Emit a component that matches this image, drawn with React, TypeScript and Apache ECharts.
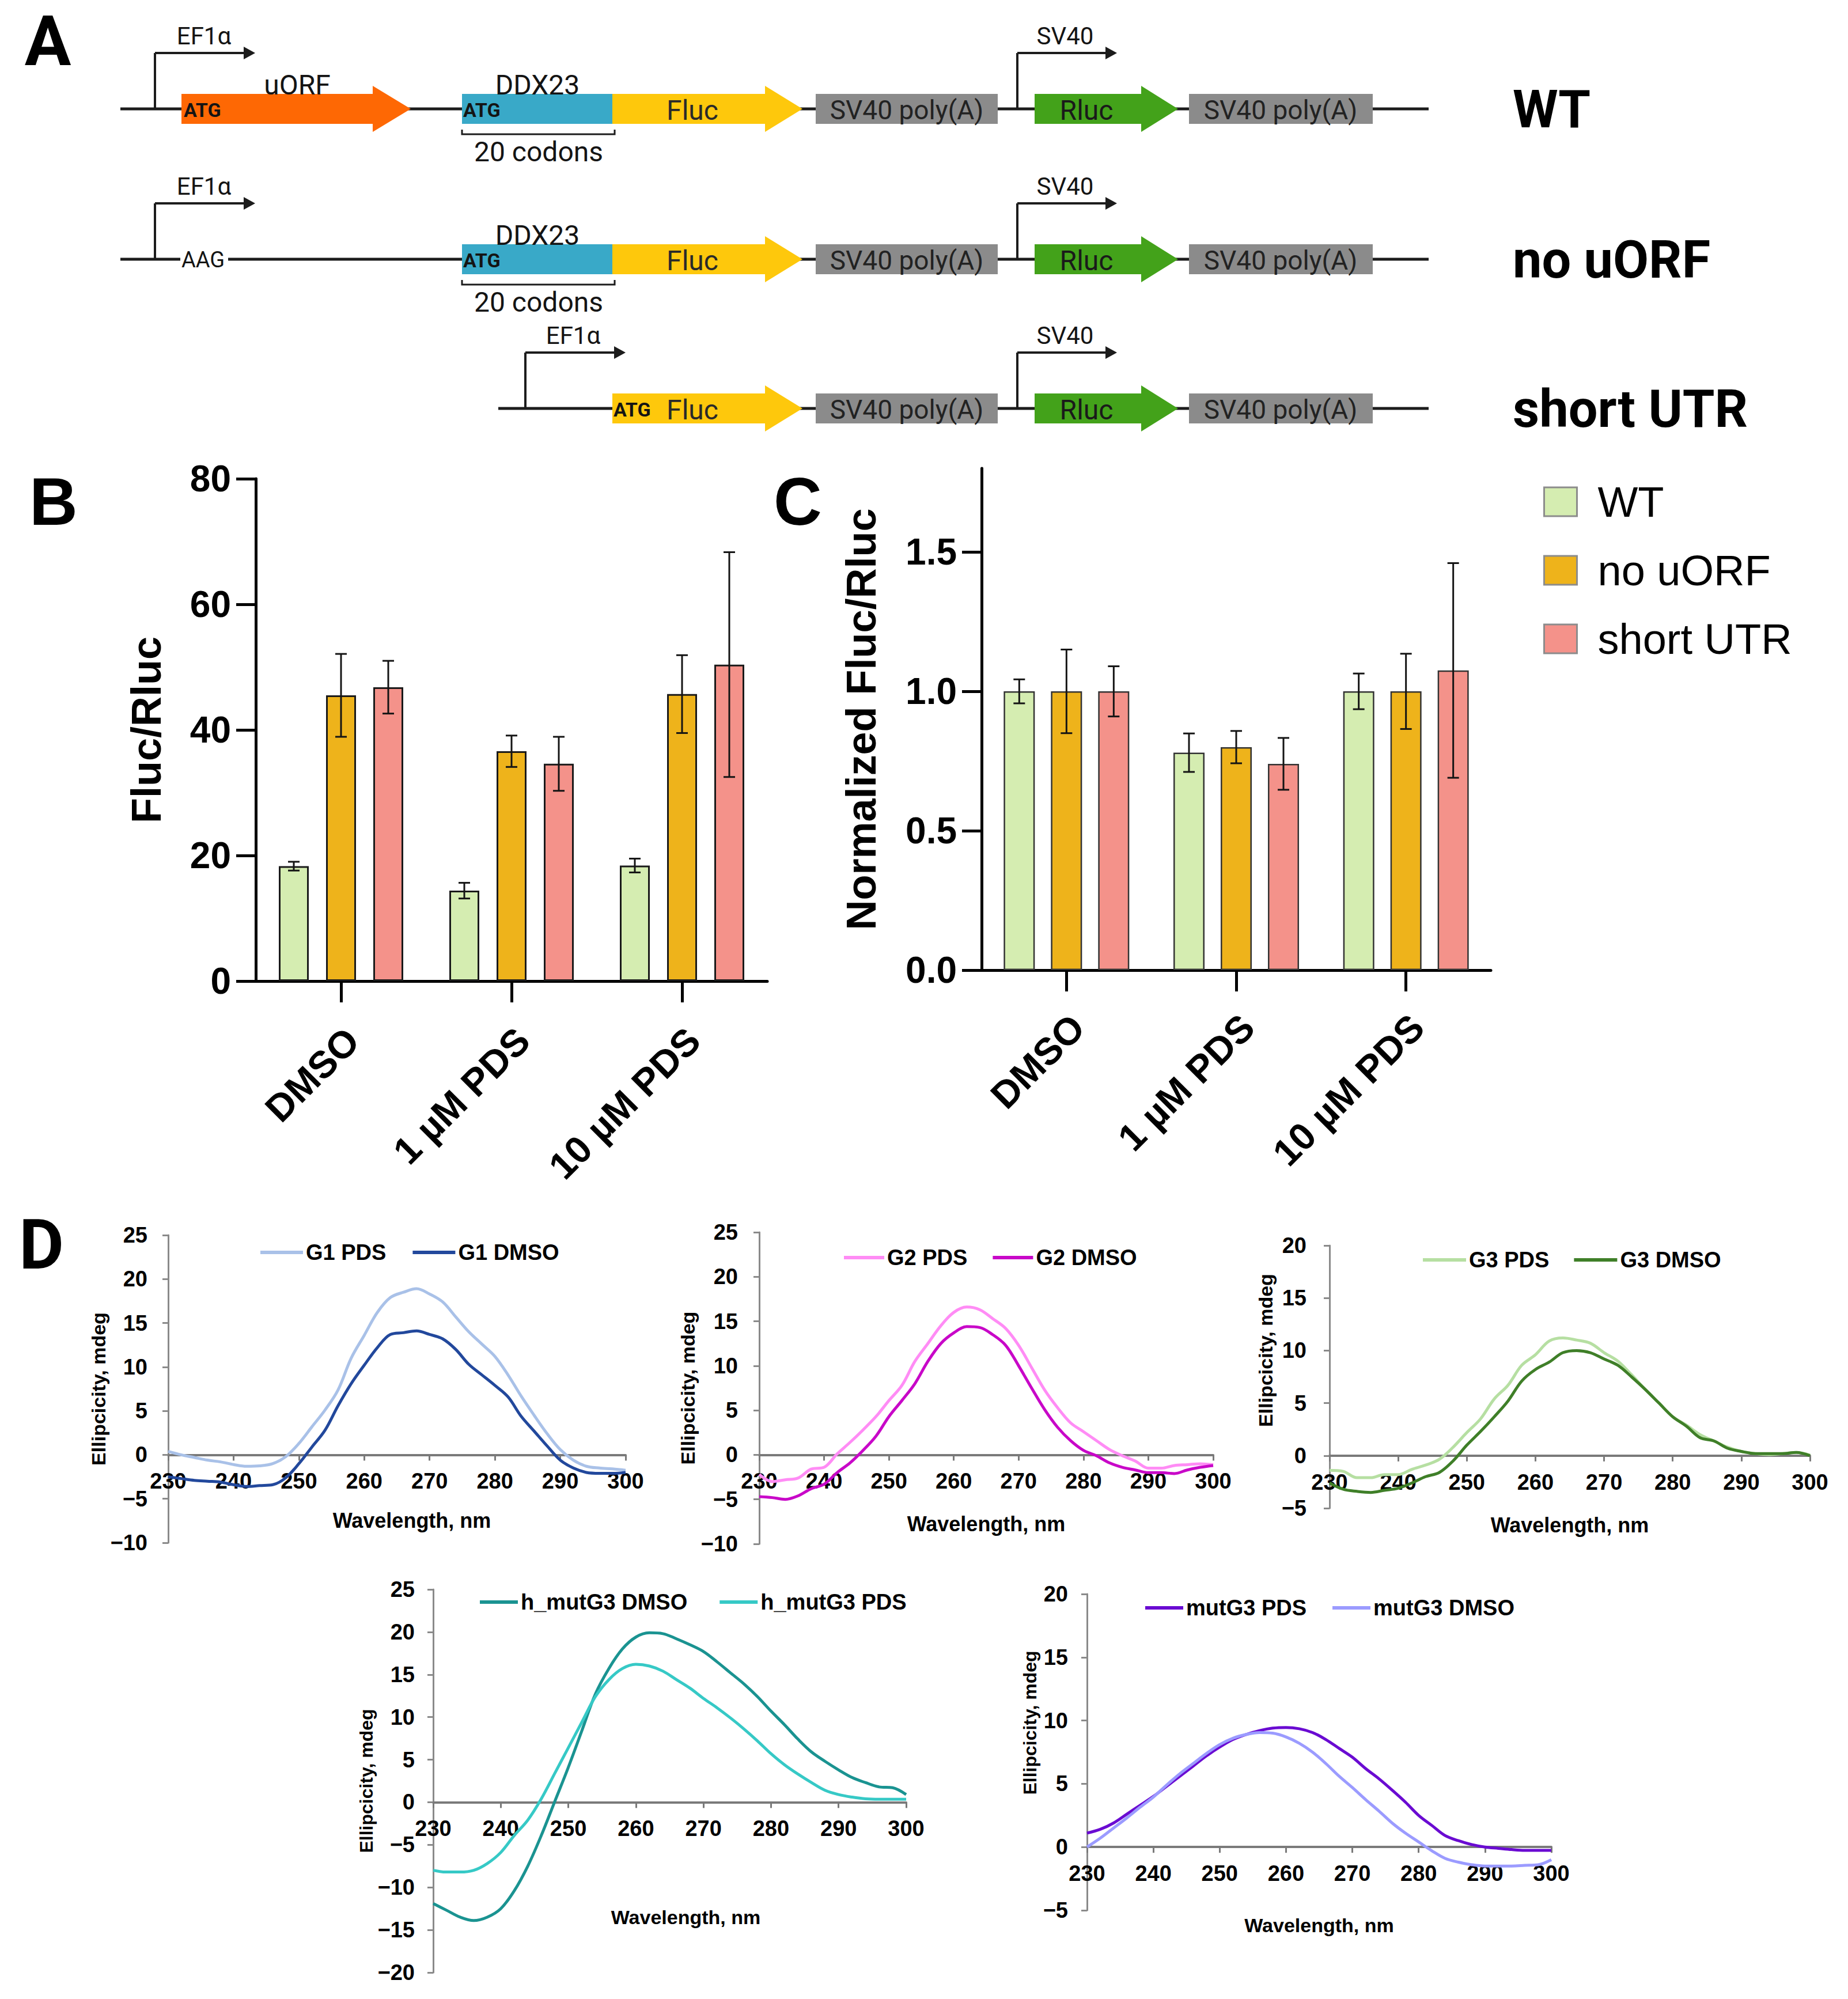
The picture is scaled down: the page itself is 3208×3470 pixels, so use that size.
import React, { useEffect, useRef } from 'react';
import * as echarts from 'echarts';

// ---------------- data ----------------
const CATEGORIES = ['DMSO', '1 µM PDS', '10 µM PDS'];
const GROUPS = ['WT', 'no uORF', 'short UTR'];

const B_WT_MEAN = [18.3, 14.4, 18.4];
const B_WT_SD = [0.7, 1.25, 1.1];
const B_NOUORF_MEAN = [45.5, 36.6, 45.7];
const B_NOUORF_SD = [6.6, 2.5, 6.2];
const B_SHORT_MEAN = [46.8, 34.6, 50.4];
const B_SHORT_SD = [4.2, 4.3, 17.9];

const C_WT_MEAN = [1.0, 0.78, 1.0];
const C_WT_SD = [0.043, 0.069, 0.064];
const C_NOUORF_MEAN = [1.0, 0.8, 1.0];
const C_NOUORF_SD = [0.15, 0.058, 0.135];
const C_SHORT_MEAN = [1.0, 0.74, 1.075];
const C_SHORT_SD = [0.09, 0.093, 0.385];

const C_TICKS = [0, 0.5, 1.0, 1.5];

const WAVELENGTH = [230, 232, 234, 236, 238, 240, 242, 244, 246, 248, 250, 252, 254, 256, 258, 260, 262, 264,
  266, 268, 270, 272, 274, 276, 278, 280, 282, 284, 286, 288, 290, 292, 294, 296, 298, 300];

const G1_PDS = [0.4, 0.0, -0.3, -0.6, -0.8, -1.1, -1.3, -1.25, -1.0, -0.2, 1.3, 3.2, 5.1, 7.4, 11.0, 13.6, 16.2, 17.9,
  18.5, 18.9, 18.3, 17.4, 15.7, 14.0, 12.6, 11.2, 9.1, 6.7, 4.5, 2.4, 0.6, -0.6, -1.3, -1.5, -1.6, -1.75];
const G1_DMSO = [-2.5, -2.7, -2.9, -3.0, -3.1, -3.4, -3.6, -3.5, -3.4, -2.6, -1.0, 0.9, 2.8, 5.6, 8.1, 10.2, 12.2, 13.7,
  13.9, 14.1, 13.7, 13.2, 12.0, 10.3, 9.1, 7.9, 6.6, 4.4, 2.7, 1.0, -0.6, -1.5, -2.0, -2.1, -2.1, -2.0];
const G2_PDS = [-2.2, -3.0, -2.8, -2.6, -1.6, -1.4, 0.1, 1.4, 2.8, 4.3, 6.1, 7.8, 10.5, 12.5, 14.5, 16.0, 16.6, 16.3,
  15.3, 14.2, 12.3, 9.8, 7.3, 5.3, 3.6, 2.6, 1.6, 0.6, -0.1, -0.7, -1.5, -1.5, -1.2, -1.1, -1.0, -1.1];
const G2_DMSO = [-4.7, -4.8, -5.0, -4.6, -3.8, -3.3, -2.0, -0.9, 0.5, 2.1, 4.3, 6.1, 8.0, 10.5, 12.5, 13.7, 14.4, 14.3,
  13.5, 12.3, 10.0, 7.5, 5.1, 3.1, 1.6, 0.5, -0.1, -0.9, -1.4, -1.7, -2.0, -2.0, -2.1, -1.7, -1.4, -1.2];
const G3_PDS = [-1.4, -1.5, -2.1, -2.1, -1.8, -1.8, -1.3, -0.9, -0.35, 0.8, 2.2, 3.5, 5.4, 6.7, 8.6, 9.6, 10.9, 11.2,
  11.0, 10.7, 9.8, 9.0, 7.7, 6.3, 5.0, 3.7, 2.9, 2.0, 1.4, 0.8, 0.4, 0.2, 0.1, 0.2, 0.3, 0.05];
const G3_DMSO = [-2.6, -3.2, -3.4, -3.5, -3.3, -3.1, -2.6, -2.0, -1.6, -0.5, 1.0, 2.3, 3.7, 5.2, 7.1, 8.2, 8.9, 9.8,
  10.0, 9.8, 9.2, 8.6, 7.5, 6.3, 5.0, 3.7, 2.8, 1.7, 1.4, 0.7, 0.4, 0.2, 0.2, 0.2, 0.3, 0.0];
const HMUT_DMSO = [-11.9, -12.7, -13.5, -13.9, -13.5, -12.5, -10.4, -7.5, -3.9, 0.1, 4.1, 8.4, 12.7, 15.7, 18.0, 19.4,
  19.9, 19.8, 19.2, 18.5, 17.7, 16.5, 15.2, 13.9, 12.4, 10.7, 9.1, 7.4, 5.9, 4.8, 3.8, 2.9, 2.3, 1.8, 1.7, 0.9];
const HMUT_PDS = [-8.0, -8.2, -8.2, -8.0, -7.2, -5.9, -3.9, -2.1, 0.4, 3.4, 6.4, 9.4, 12.4, 14.4, 15.7, 16.2, 16.0, 15.4,
  14.4, 13.4, 12.2, 11.1, 9.9, 8.6, 7.2, 5.7, 4.4, 3.3, 2.3, 1.4, 0.9, 0.6, 0.4, 0.35, 0.35, 0.35];
const MUT_PDS = [1.1, 1.4, 1.9, 2.6, 3.3, 4.0, 4.8, 5.6, 6.4, 7.2, 7.9, 8.5, 8.9, 9.2, 9.4, 9.45, 9.35, 9.05, 8.5, 7.8,
  7.1, 6.2, 5.4, 4.5, 3.55, 2.5, 1.7, 0.9, 0.5, 0.2, 0.0, -0.1, -0.2, -0.26, -0.26, -0.26];
const MUT_DMSO = [0.0, 0.7, 1.5, 2.3, 3.15, 3.95, 4.9, 5.8, 6.6, 7.4, 8.1, 8.6, 8.9, 9.05, 9.0, 8.7, 8.2, 7.5, 6.6, 5.6,
  4.7, 3.75, 2.85, 1.9, 1.1, 0.4, -0.3, -0.9, -1.2, -1.4, -1.5, -1.5, -1.5, -1.45, -1.4, -1.0];

// ---------------- styles ----------------
const FONT = '"Liberation Sans", Arial, Helvetica, sans-serif';
const A_FONT = 'Roboto, "Liberation Sans", sans-serif';
const GROUP_COLORS = ['#d5edb1', '#eeb31b', '#f4928a'];

const D_PANELS = [
  {
    grid: { left: 292, top: 2144, width: 794, height: 534 }, yMin: -10, yMax: 25,
    lines: [{ name: 'G1 PDS', data: G1_PDS, color: '#a9c1e8' }, { name: 'G1 DMSO', data: G1_DMSO, color: '#22489c' }],
    legend: { left: 452, top: 2155, itemWidth: 74, itemGap: 46 },
    yLabelMargin: 36, yNameGap: 103, yNamePad: 0, xNameGap: 96, xNamePad: 52, yNameSize: 34, xNameSize: 36,
  },
  {
    grid: { left: 1318, top: 2139, width: 788, height: 541 }, yMin: -10, yMax: 25,
    lines: [{ name: 'G2 PDS', data: G2_PDS, color: '#ff8cf5' }, { name: 'G2 DMSO', data: G2_DMSO, color: '#c808c8' }],
    legend: { left: 1465, top: 2164, itemWidth: 70, itemGap: 44 },
    yLabelMargin: 37, yNameGap: 107, yNamePad: 0, xNameGap: 102, xNamePad: 0, yNameSize: 34, xNameSize: 36,
  },
  {
    grid: { left: 2308, top: 2162, width: 834, height: 456 }, yMin: -5, yMax: 20,
    lines: [{ name: 'G3 PDS', data: G3_PDS, color: '#b6dfa2' }, { name: 'G3 DMSO', data: G3_DMSO, color: '#3f7f28' }],
    legend: { left: 2470, top: 2168, itemWidth: 75, itemGap: 43 },
    yLabelMargin: 40, yNameGap: 94, yNamePad: 92, xNameGap: 103, xNamePad: 0, yNameSize: 34, xNameSize: 36,
  },
  {
    grid: { left: 752, top: 2759, width: 821, height: 665 }, yMin: -20, yMax: 25,
    lines: [{ name: 'h_mutG3 DMSO', data: HMUT_DMSO, color: '#1a9391' }, { name: 'h_mutG3 PDS', data: HMUT_PDS, color: '#36c9c6' }],
    legend: { left: 833, top: 2762, itemWidth: 66, itemGap: 56 },
    yLabelMargin: 32, yNameGap: 100, yNamePad: 0, xNameGap: 183, xNamePad: 56, yNameSize: 32, xNameSize: 34,
  },
  {
    grid: { left: 1887, top: 2767, width: 806, height: 549 }, yMin: -5, yMax: 20,
    lines: [{ name: 'mutG3 PDS', data: MUT_PDS, color: '#6a0bd2' }, { name: 'mutG3 DMSO', data: MUT_DMSO, color: '#9b9bff' }],
    legend: { left: 1988, top: 2772, itemWidth: 66, itemGap: 45 },
    yLabelMargin: 33, yNameGap: 83, yNamePad: 102, xNameGap: 119, xNamePad: 0, yNameSize: 32, xNameSize: 34,
  },
];

const minus = (v: number) => String(v).replace('-', '\u2212');

// ---------------- panel A (schematic) ----------------
function buildPanelA(): any[] {
  const K = '#1c1c1c';
  const els: any[] = [];
  const ln = (x1: number, y1: number, x2: number, y2: number, w = 5) =>
    ({ type: 'line', silent: true, shape: { x1, y1, x2, y2 }, style: { stroke: K, lineWidth: w } });
  const tx = (x: number, y: number, text: string, size: number, extra: any = {}) =>
    ({ type: 'text', silent: true, x, y, style: { text, fontSize: size, fontFamily: A_FONT, fill: '#141414', align: 'center', verticalAlign: 'middle', ...extra } });
  const arrow = (x0: number, xh: number, xt: number, yc: number, fill: string) => ({
    type: 'polygon', silent: true,
    shape: { points: [[x0, yc - 26], [xh, yc - 26], [xh, yc - 40], [xt, yc], [xh, yc + 40], [xh, yc + 26], [x0, yc + 26]] },
    style: { fill },
  });
  const box = (x0: number, x1: number, yc: number, fill: string) =>
    ({ type: 'rect', silent: true, shape: { x: x0, y: yc - 26, width: x1 - x0, height: 52 }, style: { fill } });
  const promoter = (x: number, yc: number, len: number, label: string, lx: number) => [
    ln(x, yc, x, yc - 97, 4),
    ln(x, yc - 97, x + len - 16, yc - 97, 4),
    { type: 'polygon', silent: true, shape: { points: [[x + len - 20, yc - 108], [x + len, yc - 97], [x + len - 20, yc - 86]] }, style: { fill: K } },
    tx(lx, yc - 127, label, 42),
  ];

  const rows = [
    { yc: 189, name: 'WT', kind: 'wt' },
    { yc: 450, name: 'no uORF', kind: 'nouorf' },
    { yc: 709, name: 'short UTR', kind: 'short' },
  ];
  rows.forEach(({ yc, name, kind }) => {
    if (kind === 'short') els.push(ln(865, yc, 2480, yc));
    else if (kind === 'nouorf') { els.push(ln(209, yc, 313, yc)); els.push(ln(396, yc, 2480, yc)); }
    else els.push(ln(209, yc, 2480, yc));

    if (kind === 'short') els.push(...promoter(912, yc, 174, 'EF1\u03b1', 995));
    else els.push(...promoter(269, yc, 174, 'EF1\u03b1', 354));

    if (kind === 'wt') {
      els.push(arrow(315, 647, 713, yc, '#fe6804'));
      els.push(tx(319, yc + 2, 'ATG', 34, { align: 'left', fontWeight: 'bold' }));
      els.push(tx(516, yc - 42, 'uORF', 48));
    }
    if (kind === 'nouorf') els.push(tx(315, yc + 1, 'AAG', 38, { align: 'left' }));
    if (kind !== 'short') {
      els.push(box(802, 1063, yc, '#39a9c8'));
      els.push(tx(804, yc + 2, 'ATG', 34, { align: 'left', fontWeight: 'bold' }));
      els.push(tx(933, yc - 42, 'DDX23', 48));
      els.push({
        type: 'polyline', silent: true,
        shape: { points: [[802, yc + 36], [802, yc + 44], [1067, yc + 44], [1067, yc + 36]] },
        style: { stroke: K, lineWidth: 3, fill: null },
      });
      els.push(tx(935, yc + 74, '20 codons', 48));
    }
    els.push(arrow(1063, 1328, 1393, yc, '#fec80c'));
    if (kind === 'short') els.push(tx(1065, yc + 2, 'ATG', 34, { align: 'left', fontWeight: 'bold' }));
    els.push(tx(1202, yc + 2, 'Fluc', 48, { fill: '#2a2a2a' }));
    els.push(box(1416, 1732, yc, '#8b8b8b'));
    els.push(tx(1574, yc + 2, 'SV40 poly(A)', 46, { fill: '#222' }));
    els.push(...promoter(1766, yc, 173, 'SV40', 1849));
    els.push(arrow(1796, 1981, 2045, yc, '#43a21a'));
    els.push(tx(1886, yc + 2, 'Rluc', 48, { fill: '#1a1a1a' }));
    els.push(box(2064, 2383, yc, '#8b8b8b'));
    els.push(tx(2223, yc + 2, 'SV40 poly(A)', 46, { fill: '#222' }));
    els.push(tx(2626, yc + 1, name, 90, { align: 'left', fontWeight: 'bold', fill: '#000' }));
  });

  // panel letters
  els.push(tx(83, 72, 'A', 120, { fontWeight: 'bold', fill: '#000' }));
  els.push(tx(93, 871, 'B', 116, { fontWeight: 'bold', fill: '#000', fontFamily: FONT }));
  els.push(tx(1385, 871, 'C', 116, { fontWeight: 'bold', fill: '#000', fontFamily: FONT }));
  els.push(tx(72, 2161, 'D', 120, { fontWeight: 'bold', fill: '#000' }));
  return els;
}

// ---------------- option ----------------
function buildOption(): any {
  const grids: any[] = [
    { left: 444, top: 831, width: 888, height: 872, outerBoundsMode: 'none', containLabel: false },
    { left: 1704, top: 813, width: 884, height: 871, outerBoundsMode: 'none', containLabel: false },
  ];
  const xAxes: any[] = [];
  const yAxes: any[] = [];
  const series: any[] = [];
  const legends: any[] = [];

  const catX = (gi: number, margin: number) => ({
    type: 'category', gridIndex: gi, data: CATEGORIES,
    axisLine: { show: true, lineStyle: { color: '#000', width: 5 } },
    axisTick: { show: true, alignWithLabel: true, length: 37, lineStyle: { color: '#000', width: 5 } },
    axisLabel: {
      interval: 0, rotate: 45, margin, fontSize: 66, fontWeight: 'bold', color: '#000', fontFamily: FONT,
      padding: [0, -28, 0, 0],
    },
    splitLine: { show: false },
  });
  xAxes.push(catX(0, 112));
  xAxes.push(catX(1, 108));

  yAxes.push({
    type: 'value', gridIndex: 0, min: 0, max: 80, interval: 20,
    axisLine: { show: true, lineStyle: { color: '#000', width: 5 } },
    axisTick: { show: true, length: 34, lineStyle: { color: '#000', width: 5 } },
    axisLabel: { margin: 43, fontSize: 64, fontWeight: 'bold', color: '#000', fontFamily: FONT },
    splitLine: { show: false },
    name: 'Fluc/Rluc', nameLocation: 'middle', nameGap: 154,
    nameTextStyle: { fontSize: 72, fontWeight: 'bold', color: '#000', fontFamily: FONT },
  });
  yAxes.push({
    type: 'value', gridIndex: 1, min: 0, max: 1.8,
    axisLine: { show: true, lineStyle: { color: '#000', width: 5 } },
    axisTick: { show: true, length: 34, customValues: C_TICKS, lineStyle: { color: '#000', width: 5 } },
    axisLabel: {
      margin: 43, fontSize: 64, fontWeight: 'bold', color: '#000', fontFamily: FONT,
      customValues: C_TICKS, formatter: (v: number) => v.toFixed(1),
    },
    splitLine: { show: false },
    name: 'Normalized Fluc/Rluc', nameLocation: 'middle', nameGap: 173,
    nameTextStyle: { fontSize: 72, fontWeight: 'bold', color: '#000', fontFamily: FONT },
  });

  const bMeans = [B_WT_MEAN, B_NOUORF_MEAN, B_SHORT_MEAN];
  const bSd = [B_WT_SD, B_NOUORF_SD, B_SHORT_SD];
  const cMeans = [C_WT_MEAN, C_NOUORF_MEAN, C_SHORT_MEAN];
  const cSd = [C_WT_SD, C_NOUORF_SD, C_SHORT_SD];

  const addBars = (axis: number, means: number[][], sds: number[][], barW: number, gapPx: number, borderW: number, borderC: string) => {
    const step = barW + gapPx;
    means.forEach((m, gi) => {
      series.push({
        type: 'bar', name: GROUPS[gi], xAxisIndex: axis, yAxisIndex: axis, data: m,
        barWidth: barW, barGap: `${(gapPx / barW) * 100}%`,
        itemStyle: { color: GROUP_COLORS[gi], borderColor: borderC, borderWidth: borderW },
        emphasis: { disabled: true }, z: 2,
      });
    });
    means.forEach((m, gi) => {
      const sd = sds[gi];
      series.push({
        type: 'custom', xAxisIndex: axis, yAxisIndex: axis, z: 10, silent: true,
        data: m.map((v, i) => [i, v - sd[i], v + sd[i]]),
        encode: { x: 0, y: [1, 2] },
        renderItem: (params: any, api: any) => {
          const lo = api.coord([api.value(0), api.value(1)]);
          const hi = api.coord([api.value(0), api.value(2)]);
          const x = lo[0] + (gi - 1) * step;
          const cap = 10;
          const st = { stroke: '#141414', lineWidth: 3 };
          return {
            type: 'group',
            children: [
              { type: 'line', shape: { x1: x, y1: lo[1], x2: x, y2: hi[1] }, style: st },
              { type: 'line', shape: { x1: x - cap, y1: lo[1], x2: x + cap, y2: lo[1] }, style: st },
              { type: 'line', shape: { x1: x - cap, y1: hi[1], x2: x + cap, y2: hi[1] }, style: st },
            ],
          };
        },
      });
    });
  };
  addBars(0, bMeans, bSd, 52, 30, 3, '#1a1a1a');
  addBars(1, cMeans, cSd, 54, 28, 2.5, '#333333');

  legends.push({
    left: 2679, top: 834, orient: 'vertical', padding: 0, selectedMode: false,
    data: GROUPS, icon: 'rect', itemWidth: 57, itemHeight: 50, itemGap: 45,
    itemStyle: { borderColor: '#8c8c8c', borderWidth: 3 },
    textStyle: { fontSize: 74, color: '#000', fontFamily: FONT, padding: [0, 0, 0, 31] },
  });

  D_PANELS.forEach((p, k) => {
    const gi = 2 + k;
    const zeroOffset = -p.grid.height * (0 - p.yMin) / (p.yMax - p.yMin);
    grids.push({ ...p.grid, outerBoundsMode: 'none', containLabel: false });
    xAxes.push({
      type: 'value', gridIndex: gi, min: 230, max: 300, interval: 10, position: 'bottom', offset: zeroOffset,
      axisLine: { show: true, onZero: false, lineStyle: { color: '#7a7a7a', width: 4 } },
      axisTick: { show: true, length: 10, lineStyle: { color: '#7a7a7a', width: 3 } },
      axisLabel: { margin: 27, fontSize: 38, fontWeight: 'bold', color: '#000', fontFamily: FONT },
      splitLine: { show: false },
      name: 'Wavelength, nm', nameLocation: 'middle', nameGap: p.xNameGap,
      nameTextStyle: { fontSize: p.xNameSize, fontWeight: 'bold', color: '#000', fontFamily: FONT, padding: [0, 0, 0, p.xNamePad] },
    });
    yAxes.push({
      type: 'value', gridIndex: gi, min: p.yMin, max: p.yMax, interval: 5,
      axisLine: { show: true, onZero: false, lineStyle: { color: '#8a8a8a', width: 3 } },
      axisTick: { show: true, length: 10, lineStyle: { color: '#8a8a8a', width: 3 } },
      axisLabel: { margin: p.yLabelMargin, fontSize: 38, fontWeight: 'bold', color: '#000', fontFamily: FONT, formatter: minus },
      splitLine: { show: false },
      name: 'Ellipcicity, mdeg', nameLocation: 'middle', nameGap: p.yNameGap,
      nameTextStyle: { fontSize: p.yNameSize, fontWeight: 'bold', color: '#000', fontFamily: FONT, padding: [0, 0, 0, p.yNamePad] },
    });
    p.lines.forEach((l) => {
      series.push({
        type: 'line', name: l.name, xAxisIndex: gi, yAxisIndex: gi,
        data: WAVELENGTH.map((w, i) => [w, l.data[i]]),
        showSymbol: false, symbol: 'none', smooth: 0.35, color: l.color,
        lineStyle: { color: l.color, width: 5 }, emphasis: { disabled: true }, z: 3,
      });
    });
    legends.push({
      left: p.legend.left, top: p.legend.top, orient: 'horizontal', padding: 0, selectedMode: false,
      data: p.lines.map((l) => l.name), icon: 'rect', itemWidth: p.legend.itemWidth, itemHeight: 6, itemGap: p.legend.itemGap,
      textStyle: { fontSize: 38, fontWeight: 'bold', color: '#000', fontFamily: FONT, lineHeight: 38 },
    });
  });

  return {
    animation: false,
    backgroundColor: '#ffffff',
    textStyle: { fontFamily: FONT },
    grid: grids,
    xAxis: xAxes,
    yAxis: yAxes,
    legend: legends,
    series,
    graphic: { elements: buildPanelA() },
  };
}

export default function App() {
  const ref = useRef<HTMLDivElement>(null);
  useEffect(() => {
    document.body.style.margin = '0';
    if (!ref.current) return;
    const chart = echarts.init(ref.current, null, { renderer: 'svg' });
    chart.setOption(buildOption());
    return () => chart.dispose();
  }, []);
  return <div ref={ref} style={{ width: 3208, height: 3470, background: '#fff' }} />;
}
